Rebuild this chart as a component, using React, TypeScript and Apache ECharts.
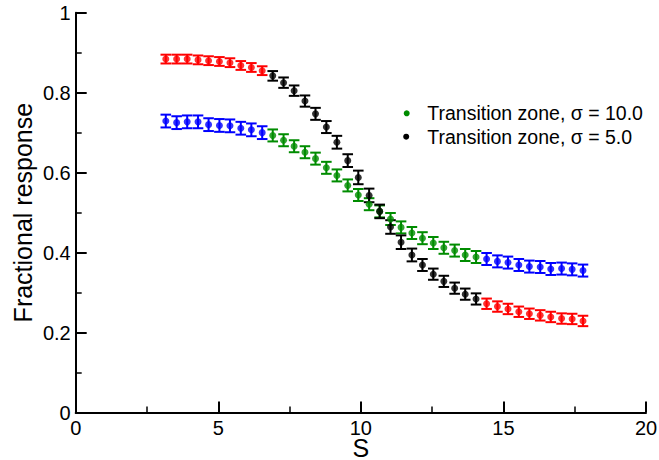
import React, { useEffect, useRef } from "react";
import * as echarts from "echarts";

// S positions (shared by both curves)
const sValues = [
  3.16, 3.54, 3.91, 4.29, 4.66, 5.04, 5.41, 5.79, 6.16, 6.54,
  6.91, 7.29, 7.66, 8.04, 8.41, 8.79, 9.16, 9.54, 9.91, 10.29,
  10.66, 11.04, 11.41, 11.79, 12.16, 12.54, 12.91, 13.29, 13.66, 14.04,
  14.41, 14.79, 15.16, 15.54, 15.91, 16.29, 16.66, 17.04, 17.41, 17.79,
];

// sigma = 5.0 curve
const sigma5Response = [
  0.884, 0.884, 0.884, 0.882, 0.88, 0.878, 0.875, 0.868, 0.863, 0.855,
  0.842, 0.825, 0.805, 0.779, 0.747, 0.714, 0.676, 0.63, 0.588, 0.543,
  0.503, 0.464, 0.426, 0.394, 0.369, 0.346, 0.328, 0.311, 0.296, 0.284,
  0.272, 0.265, 0.259, 0.252, 0.247, 0.243, 0.239, 0.235, 0.234, 0.229,
];
const sigma5Error = [
  0.011, 0.011, 0.011, 0.011, 0.011, 0.011, 0.011, 0.011, 0.011, 0.011,
  0.012, 0.013, 0.013, 0.014, 0.015, 0.015, 0.016, 0.016, 0.017, 0.017,
  0.017, 0.017, 0.017, 0.016, 0.015, 0.014, 0.014, 0.014, 0.014, 0.014,
  0.013, 0.013, 0.013, 0.013, 0.013, 0.013, 0.013, 0.013, 0.013, 0.013,
];

// sigma = 10.0 curve
const sigma10Response = [
  0.729, 0.725, 0.727, 0.727, 0.72, 0.718, 0.717, 0.711, 0.707, 0.7,
  0.693, 0.681, 0.666, 0.651, 0.635, 0.612, 0.593, 0.568, 0.544, 0.521,
  0.503, 0.484, 0.463, 0.449, 0.436, 0.424, 0.412, 0.405, 0.394, 0.389,
  0.384, 0.378, 0.375, 0.369, 0.365, 0.364, 0.359, 0.36, 0.358, 0.355,
];
const sigma10Error = [
  0.016, 0.016, 0.016, 0.016, 0.016, 0.016, 0.016, 0.016, 0.016, 0.016,
  0.015, 0.015, 0.015, 0.015, 0.015, 0.015, 0.015, 0.015, 0.015, 0.015,
  0.015, 0.015, 0.015, 0.015, 0.015, 0.015, 0.015, 0.015, 0.015, 0.015,
  0.015, 0.015, 0.015, 0.015, 0.015, 0.015, 0.015, 0.015, 0.015, 0.015,
];

// transition zone = point indices [zoneStart, zoneEnd)
const zoneStart = 10;
const zoneEnd = 30;

const xTicks = { min: 0, max: 20, interval: 5 };
const yTicks = { min: 0, max: 1, interval: 0.2 };

const name5 = "Transition zone, σ = 5.0";
const name10 = "Transition zone, σ = 10.0";

const FONT = "'Liberation Sans', Arial, Helvetica, sans-serif";
const RED = "#ff0000";
const BLUE = "#0000ff";
const GREEN = "#008c00";
const BLACK = "#000000";

function rows(resp: number[], err: number[], inZone: boolean) {
  const out: number[][] = [];
  for (let i = 0; i < sValues.length; i++) {
    const z = i >= zoneStart && i < zoneEnd;
    if (z === inZone) out.push([sValues[i], resp[i], err[i]]);
  }
  return out;
}

function errorSeries(name: string, data: number[][], color: string) {
  return {
    type: "custom",
    name,
    data,
    encode: { x: 0, y: 1 },
    z: 2,
    silent: true,
    renderItem: (params: any, api: any) => {
      const x = api.value(0);
      const y = api.value(1);
      const e = api.value(2);
      const top = api.coord([x, y + e]);
      const bot = api.coord([x, y - e]);
      const cap = 5.3;
      const st = { stroke: color, lineWidth: 2 };
      return {
        type: "group",
        children: [
          { type: "line", shape: { x1: top[0], y1: top[1], x2: bot[0], y2: bot[1] }, style: st },
          { type: "line", shape: { x1: top[0] - cap, y1: top[1], x2: top[0] + cap, y2: top[1] }, style: st },
          { type: "line", shape: { x1: bot[0] - cap, y1: bot[1], x2: bot[0] + cap, y2: bot[1] }, style: st },
        ],
      };
    },
  };
}

function scatterSeries(name: string, data: number[][], color: string) {
  return {
    type: "scatter",
    name,
    data: data.map((d) => [d[0], d[1]]),
    symbol: "circle",
    symbolSize: 7,
    itemStyle: { color },
    z: 3,
  };
}

function legendItem(label: string, color: string, cx: number, cy: number) {
  return [
    { type: "circle", shape: { cx, cy, r: 3 }, style: { fill: color }, z: 10 },
    {
      type: "text",
      x: 427.3,
      y: cy,
      z: 10,
      style: {
        text: label,
        fill: BLACK,
        fontSize: 19.5,
        fontFamily: FONT,
        verticalAlign: "middle",
        align: "left",
      },
    },
  ];
}

export default function App() {
  const ref = useRef<HTMLDivElement>(null);
  useEffect(() => {
    if (!ref.current) return;
    const chart = echarts.init(ref.current, null, { renderer: "svg" });
    const s10out = rows(sigma10Response, sigma10Error, false);
    const s10in = rows(sigma10Response, sigma10Error, true);
    const s5out = rows(sigma5Response, sigma5Error, false);
    const s5in = rows(sigma5Response, sigma5Error, true);
    const axisCommon = {
      axisLine: { show: true, lineStyle: { color: BLACK, width: 2 } },
      axisTick: { show: true, inside: true, length: 11, lineStyle: { color: BLACK, width: 2 } },
      minorTick: { show: true, splitNumber: 2, length: 6, lineStyle: { color: BLACK, width: 1.5 } },
      splitLine: { show: false },
      nameLocation: "middle",
      nameMoveOverlap: false,
    };
    chart.setOption({
      animation: false,
      backgroundColor: "#ffffff",
      grid: {
        left: 75.7,
        right: 13,
        top: 12.7,
        bottom: 47.5,
        containLabel: false,
        outerBoundsMode: "none",
      },
      xAxis: {
        type: "value",
        ...axisCommon,
        min: xTicks.min,
        max: xTicks.max,
        interval: xTicks.interval,
        axisLabel: { color: BLACK, fontSize: 20, fontFamily: FONT, margin: 6, lineHeight: 18 },
        name: "S",
        nameGap: 24,
        nameTextStyle: { color: BLACK, fontSize: 25, fontFamily: FONT, lineHeight: 22 },
      },
      yAxis: {
        type: "value",
        ...axisCommon,
        min: yTicks.min,
        max: yTicks.max,
        interval: yTicks.interval,
        axisLabel: { color: BLACK, fontSize: 20, fontFamily: FONT, margin: 5 },
        name: "Fractional response",
        nameGap: 40,
        nameTextStyle: { color: BLACK, fontSize: 25, fontFamily: FONT },
      },
      graphic: [
        ...legendItem(name10, GREEN, 406.7, 113.3),
        ...legendItem(name5, BLACK, 406.2, 136.7),
      ],
      series: [
        errorSeries("err10out", s10out, BLUE),
        scatterSeries("pts10out", s10out, BLUE),
        errorSeries("err10in", s10in, GREEN),
        scatterSeries(name10, s10in, GREEN),
        errorSeries("err5out", s5out, RED),
        scatterSeries("pts5out", s5out, RED),
        errorSeries("err5in", s5in, BLACK),
        scatterSeries(name5, s5in, BLACK),
      ],
    });
    return () => chart.dispose();
  }, []);
  return (
    <div
      ref={ref}
      style={{ position: "fixed", left: 0, top: 0, width: 659, height: 460, background: "#fff" }}
    />
  );
}
